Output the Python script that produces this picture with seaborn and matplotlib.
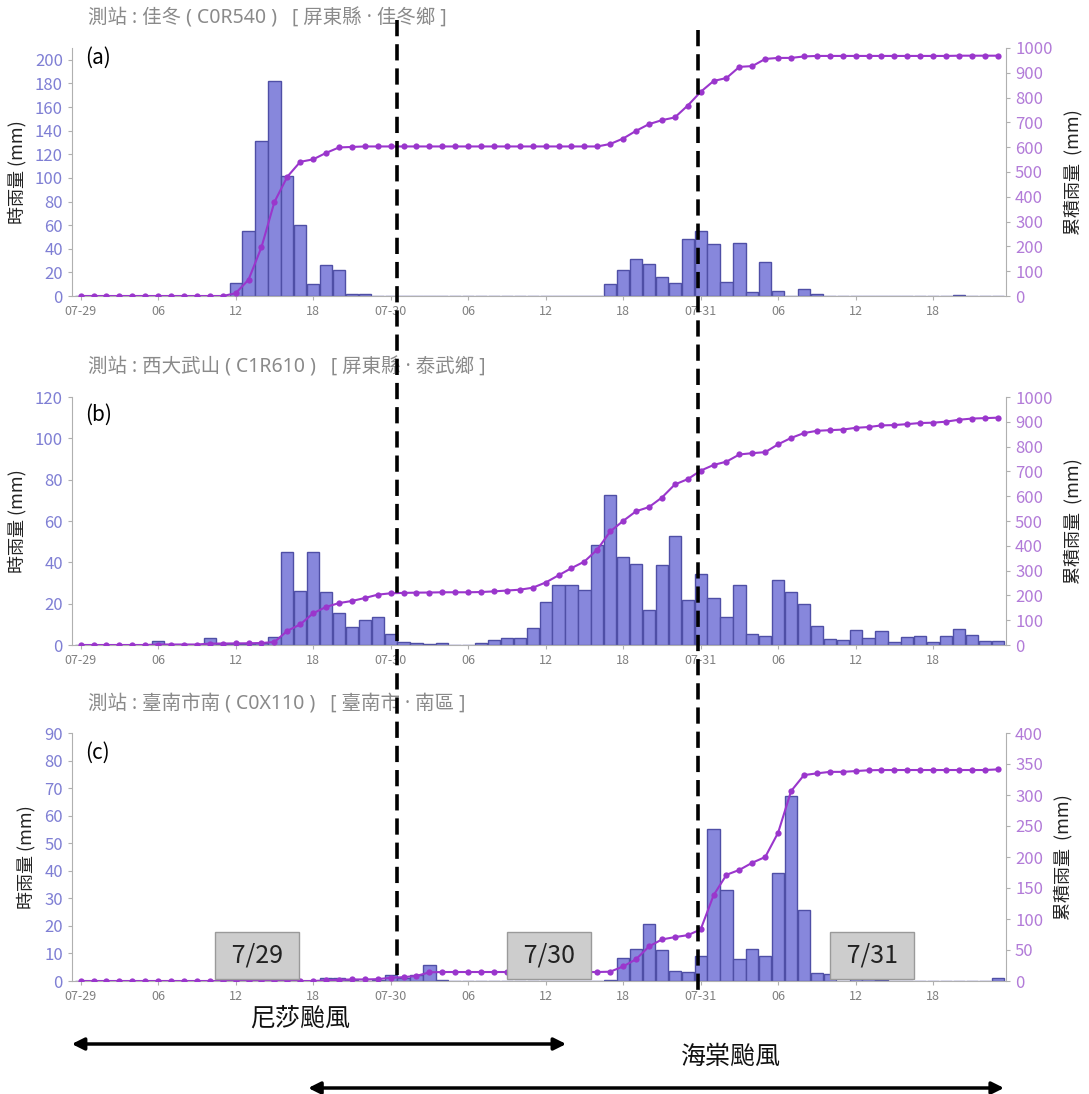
import numpy as np
import pandas as pd
import matplotlib
matplotlib.use("Agg")
import matplotlib.pyplot as plt
import matplotlib.transforms as mtransforms
from matplotlib.lines import Line2D
import seaborn as sns

# hourly rainfall, 07-29 00h .. 07-31 23h
hours = list(range(72))
tick_hours = [0, 6, 12, 18, 24, 30, 36, 42, 48, 54, 60, 66]
tick_labels = ["07-29", "06", "12", "18", "07-30", "06", "12", "18", "07-31", "06", "12", "18"]

rain_a = [0, 0, 0, 0, 0, 0, 0, 0, 0, 0, 0, 0, 11, 55, 131, 182, 102, 60, 10, 26, 22, 2, 2, 0,
          0, 0, 0, 0, 0, 0, 0, 0, 0, 0, 0, 0, 0, 0, 0, 0, 0, 10, 22, 31, 27, 16, 11, 48,
          55, 44, 12, 45, 3, 29, 4, 0, 6, 2, 0, 0, 0, 0, 0, 0, 0, 0, 0, 0, 1, 0, 0, 0]
rain_b = [0, 0, 0, 0, 0, 0, 2, 0, 0, 0, 3.5, 0.5, 0.5, 0.5, 1, 4, 45, 26, 45, 25.5, 15.5, 8.5, 12, 13.5,
          5.5, 1.6, 1, 0.5, 1, 0, 0, 1, 2.6, 3.4, 3.4, 8, 21, 29, 29, 26.5, 48.5, 72.7, 42.6, 39, 16.8, 38.5, 52.6, 21.6,
          34.2, 22.9, 13.5, 28.9, 5.2, 4.2, 31.6, 25.6, 19.7, 9, 2.7, 2.3, 7.1, 3.2, 6.6, 1.3, 3.9, 4.4, 1.3, 4.2, 7.7, 4.7, 1.8, 1.8]
rain_c = [0, 0, 0, 0, 0, 0, 0, 0, 0, 0, 0, 0, 0, 0, 0, 0, 0, 0, 0, 1, 1, 0.5, 0, 0.5,
          2.2, 1, 2, 5.8, 0.5, 0, 0, 0, 0, 0, 0, 0, 0, 0, 0, 0, 0, 0.5, 8.5, 11.6, 20.6, 11.3, 3.8, 3.1,
          9.2, 55.2, 33, 7.9, 11.6, 9.2, 39.3, 67, 25.8, 2.8, 2.4, 0, 1.3, 1.3, 0.4, 0, 0, 0, 0, 0, 0, 0, 0, 1]

titles = ["測站 : 佳冬 ( C0R540 )   [ 屏東縣 · 佳冬鄉 ]",
          "測站 : 西大武山 ( C1R610 )   [ 屏東縣 · 泰武鄉 ]",
          "測站 : 臺南市南 ( C0X110 )   [ 臺南市 · 南區 ]"]
panel_tags = ["(a)", "(b)", "(c)"]
left_max = [210, 120, 90]
left_step = [20, 20, 10]
right_max = [1000, 1000, 400]
right_step = [100, 100, 50]

# Nesat / Haitang markers
split_hours = [24.5, 47.8]
day_boxes = [(13.65, "7/29"), (36.25, "7/30"), (61.26, "7/31")]

sns.set_style("ticks")
plt.rcParams["font.family"] = ["Noto Sans CJK TC", "DejaVu Sans"]

bar_face = "#8787dc"
bar_edge = "#4f4fa6"
line_c = "#9a36cc"
left_tc = "#7f7fd4"
right_tc = "#b27bd8"
spine_c = "#b0b0b0"

W, H = 1089, 1094
fig = plt.figure(figsize=(W / 100, H / 100), dpi=100)

bottoms_px = [296, 645, 981]
tag_y = [0.96, 0.927, 0.919]
axes = []
for i, rain in enumerate([rain_a, rain_b, rain_c]):
    df = pd.DataFrame({"hour": hours, "rain": rain})
    df["cum"] = np.cumsum(df["rain"])
    ax = fig.add_axes([72 / W, 1 - bottoms_px[i] / H, 934 / W, 248 / H])
    sns.barplot(data=df, x="hour", y="rain", ax=ax, color=bar_face, edgecolor=bar_edge,
                linewidth=1, width=0.95, saturation=1, errorbar=None)
    ax.set_xlim(-0.67, 71.64)
    ax.set_ylim(0, left_max[i])
    ax.set_yticks(np.arange(0, left_max[i] + 1, left_step[i]))
    ax.set_xticks(tick_hours)
    ax.set_xticklabels(tick_labels)
    ax.set_xlabel("")
    ax.set_ylabel("時雨量 (mm)", fontsize=13, color="#222222", labelpad=6)
    ax.tick_params(axis="y", labelsize=12, labelcolor=left_tc, color=spine_c, length=3)
    ax.tick_params(axis="x", labelsize=9, labelcolor="#808080", color=spine_c, length=3)
    for s in ["top", "right"]:
        ax.spines[s].set_visible(False)
    for s in ["left", "bottom"]:
        ax.spines[s].set_color(spine_c)

    ax2 = ax.twinx()
    sns.lineplot(data=df, x="hour", y="cum", ax=ax2, color=line_c, lw=1.5,
                 marker="o", markersize=4.5, markeredgewidth=0)
    ax2.set_xlim(-0.67, 71.64)
    ax2.set_ylim(0, right_max[i])
    ax2.set_yticks(np.arange(0, right_max[i] + 1, right_step[i]))
    ax2.set_ylabel("累積雨量  (mm)", fontsize=13, color="#222222", labelpad=8)
    ax2.tick_params(axis="y", labelsize=12, labelcolor=right_tc, color=spine_c, length=3)
    for s in ["top", "left", "bottom"]:
        ax2.spines[s].set_visible(False)
    ax2.spines["right"].set_color(spine_c)

    ax.text(0.017, 1 + 30 / 248, titles[i], transform=ax.transAxes, fontsize=14,
            family=["Noto Sans", "Noto Sans CJK TC"],
            color="#8a8a8a", ha="left", va="center")
    ax.text(0.014, tag_y[i], panel_tags[i], transform=ax.transAxes, fontsize=15,
            color="black", ha="left", va="center")
    axes.append(ax2)

axc = axes[2]
for x, lab in day_boxes:
    axc.text(x, 9.1 * right_max[2] / left_max[2], " " + lab + " ", ha="center", va="center", fontsize=18,
             color="#222222",
             bbox=dict(boxstyle="square,pad=0.42", fc="#cdcdcd", ec="#9a9a9a", lw=1))

trans = mtransforms.blended_transform_factory(axc.transData, fig.transFigure)
for xh, y0, y1 in [(split_hours[0], 20, 975), (split_hours[1], 30, 990)]:
    ln = Line2D([xh, xh], [1 - y0 / H, 1 - y1 / H], transform=trans, color="black",
                lw=2.6, linestyle=(0, (4.5, 2.2)), clip_on=False)
    fig.add_artist(ln)

for x0, x1, yp in [(-0.9, 37.8, 1044), (17.4, 71.7, 1088)]:
    axc.annotate("", xy=(x1, 1 - yp / H), xytext=(x0, 1 - yp / H), xycoords=trans, textcoords=trans,
                 arrowprops=dict(arrowstyle="<|-|>", color="black", lw=2.5, mutation_scale=18),
                 annotation_clip=False)

fig.text(300 / W, 1 - 1019 / H, "尼莎颱風", fontsize=18, ha="center", va="center", color="#111111")
fig.text(731 / W, 1 - 1057 / H, "海棠颱風", fontsize=18, ha="center", va="center", color="#111111")

fig.savefig("out.png", dpi=100)
